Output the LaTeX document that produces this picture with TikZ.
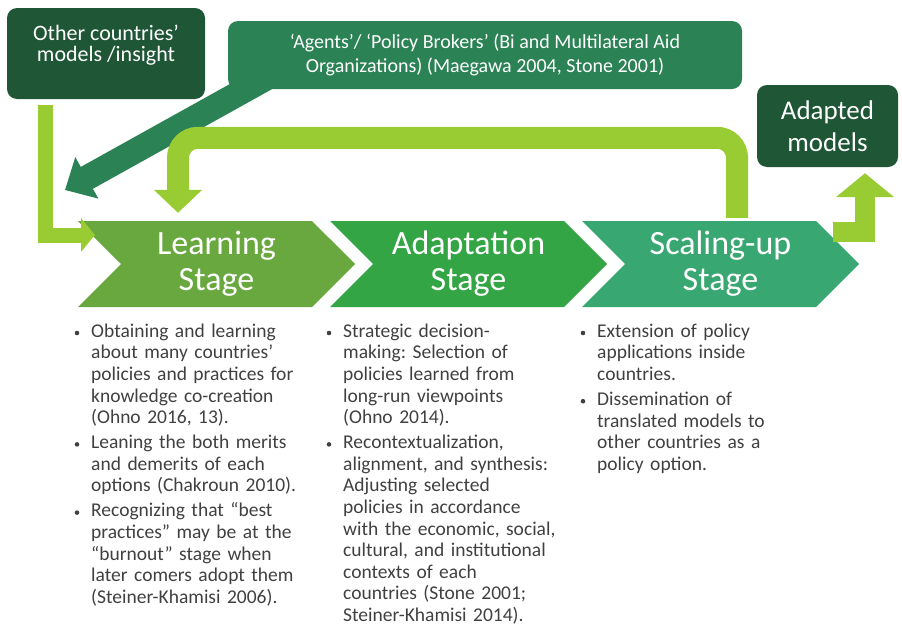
\documentclass[tikz,border=0pt]{standalone}
\usepackage{fontspec}
\setmainfont{Carlito}
\usetikzlibrary{arrows.meta}
\usetikzlibrary{shapes.symbols}
\usetikzlibrary{backgrounds}
\frenchspacing

\definecolor{darkbox}{RGB}{30,86,54}
\definecolor{agentgreen}{RGB}{43,130,84}
\definecolor{lime}{RGB}{153,204,51}
\definecolor{learncol}{RGB}{104,168,62}
\definecolor{adaptcol}{RGB}{52,165,68}
\definecolor{scalecol}{RGB}{57,167,113}
\definecolor{bodytext}{RGB}{64,64,64}

\begin{document}
\begin{tikzpicture}[x=1pt,y=-1pt,
  box/.style={rounded corners=10pt, text=white, align=center, inner sep=0pt},
  stage/.style={signal, signal to=east, signal from=west, minimum width=277pt,
    minimum height=86pt, inner sep=0pt, text=white, align=center,
    font=\fontsize{34}{36}\selectfont},
  item/.style={anchor=north west, inner sep=0pt, text width=240pt, align=left,
    text=bodytext, font=\fontsize{19.5}{21.6}\selectfont,
    execute at begin node=\strut, execute at end node=\strut},
  limearrow/.style={draw=lime, line width=#1}
]
\useasboundingbox (0,0) rectangle (902,629);

% boxes at the top
\node[box, fill=darkbox, minimum width=198pt, minimum height=91pt, font=\fontsize{22}{21}\selectfont] (other) at (106,53.5) {Other countries'\\models /insight\\ \mbox{}};
\node[box, fill=agentgreen, minimum width=514pt, minimum height=68pt, font=\fontsize{20}{24}\selectfont] (agents) at (485,55) {`Agents'/ `Policy Brokers' (Bi and Multilateral Aid\\Organizations) (Maegawa 2004, Stone 2001)};
\node[box, fill=darkbox, minimum width=141pt, minimum height=82pt, font=\fontsize{27}{32}\selectfont] (adapted) at (827.5,126) {Adapted\\models};

% the three stages
\node[stage, fill=learncol] (learn) at (216.5,264) {Learning\\Stage};
\node[stage, fill=adaptcol] (adapt) at (468.5,264) {Adaptation\\Stage};
\node[stage, fill=scalecol] (scale) at (720.5,264) {Scaling-up\\Stage};

\coordinate (agtip) at (65,190);
\coordinate (inlearn) at (95,235);
\coordinate (fbtip) at ([shift={(-38.5pt,8pt)}]learn.north);

\begin{scope}[on background layer]
\draw[draw=agentgreen, line width=25pt, -{Triangle[length=25pt,width=46pt]}] ([shift={(40pt,12pt)}]agents.south west) -- (agtip);
\end{scope}

\draw[limearrow=22pt, rounded corners=20pt, -{Triangle[length=23pt,width=47pt]}] ([shift={(16.5pt,3pt)}]scale.north) |- ([yshift=75pt]fbtip) -- (fbtip);
\draw[limearrow=15pt, -{Triangle[length=14pt,width=33pt]}] ([shift={(38.5pt,-6pt)}]other.south west) |- (inlearn);
\draw[limearrow=20pt, -{Triangle[length=24pt,width=57pt]}] ([shift={(112.5pt,-11pt)}]scale.north) -| ([shift={(37.5pt,-6pt)}]adapted.south);

% bullet texts
\node[item] (l1) at (91,322) {Obtaining and learning\\about many countries'\\policies and practices for\\knowledge co-creation\\(Ohno 2016, 13).};
\node[item] (l2) at ([yshift=-3pt]l1.south west) {Leaning the both merits\\and demerits of each\\options (Chakroun 2010).};
\node[item] (l3) at ([yshift=-3pt]l2.south west) {Recognizing that ``best\\practices'' may be at the\\``burnout'' stage when\\later comers adopt them\\(Steiner-Khamisi 2006).};

\node[item] (a1) at (343,322) {Strategic decision-\\making: Selection of\\policies learned from\\long-run viewpoints\\(Ohno 2014).};
\node[item] (a2) at ([yshift=-3pt]a1.south west) {Recontextualization,\\alignment, and synthesis:\\Adjusting selected\\policies in accordance\\with the economic, social,\\cultural, and institutional\\contexts of each\\countries (Stone 2001;\\Steiner-Khamisi 2014).};

\node[item] (s1) at (597,322) {Extension of policy\\applications inside\\countries.};
\node[item] (s2) at ([yshift=-3pt]s1.south west) {Dissemination of\\translated models to\\other countries as a\\policy option.};

\foreach \n in {l1,l2,l3,a1,a2,s1,s2}
  \fill[bodytext] ([shift={(-14pt,-11pt)}]\n.north west) circle (2.3pt);
\end{tikzpicture}
\end{document}
